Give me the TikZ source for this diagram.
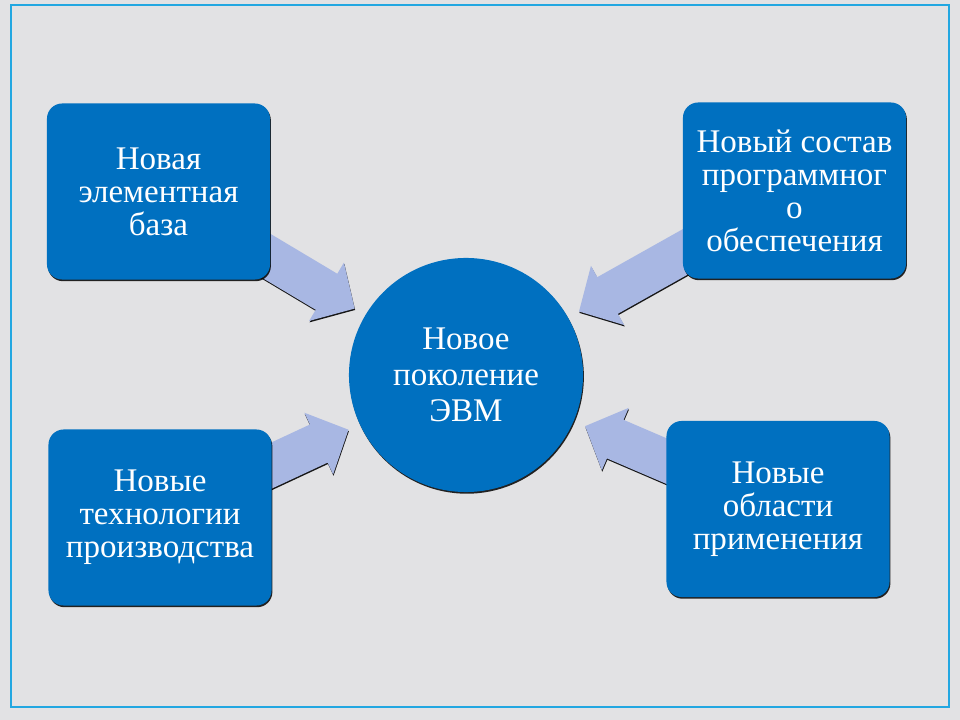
\documentclass[tikz,border=0pt]{standalone}
\usepackage{fontspec}
\setmainfont{Liberation Serif}
\usetikzlibrary{positioning,calc,shadows}
\definecolor{boxblue}{HTML}{0070C0}
\definecolor{lavender}{HTML}{A8B7E3}
\definecolor{slate}{HTML}{E2E2E4}
\definecolor{framecyan}{HTML}{22A7E1}
\pgfdeclarelayer{canvas}
\pgfdeclarelayer{arrows}
\pgfsetlayers{canvas,arrows,main}

\begin{document}
\begin{tikzpicture}[
  x=0.025cm, y=-0.025cm,
  box/.style={
    fill=boxblue,
    shape=rectangle,
    rounded corners=3.8mm,
    minimum width=5.575cm,
    minimum height=4.4cm,
    align=center,
    text=white,
    font=\fontsize{23.5}{23.5}\selectfont,
    drop shadow={shadow xshift=0.6pt, shadow yshift=-1.2pt, fill=black, opacity=0.85},
  },
  core/.style={
    fill=boxblue,
    shape=circle,
    minimum size=5.85cm,
    align=center,
    text=white,
    font=\fontsize{23.5}{25.5}\selectfont,
    drop shadow={shadow xshift=0.6pt, shadow yshift=-1.2pt, fill=black, opacity=0.85},
  },
  feed/.style={
    fill=lavender,
    drop shadow={shadow xshift=0.3pt, shadow yshift=-1pt, fill=black, opacity=0.9},
  },
  frame/.style={
    draw=framecyan,
    line width=1.8pt,
  }]
  \useasboundingbox (0,0) rectangle (960,720);
  \begin{pgfonlayer}{canvas}
    \fill[slate] (0,0) rectangle (960,720);
    \draw[frame] (11,5) rectangle (949,707);
  \end{pgfonlayer}

  \node[core] (evm) at (466,375) {Новое\\поколение\\ЭВМ};
  \node[box] (base) at (158.5,191.5) {Новая\\элементная\\база};
  \node[box] (soft) at (794.5,190.5) {Новый состав\\программног\\о\\обеспечения};
  \node[box] (tech) at (160,517.5) {Новые\\технологии\\производства};
  \node[box] (field) at (778,509) {Новые\\области\\применения};

  % block arrows from every box towards the circle
  \begin{pgfonlayer}{arrows}
    \foreach \src in {base,soft,tech,field}{
      \coordinate (head) at ($(evm)!4.06cm!(\src)$);
      \coordinate (tip) at ($(evm)!3.24cm!(\src)$);
      \fill[feed] ($(\src)!0.525cm!-90:(head)$) -- ($(head)!0.525cm!90:(\src)$)
        -- ($(head)!0.85cm!90:(\src)$) -- (tip) -- ($(head)!0.85cm!-90:(\src)$)
        -- ($(head)!0.525cm!-90:(\src)$) -- ($(\src)!0.525cm!90:(head)$) -- cycle;
    }
  \end{pgfonlayer}
\end{tikzpicture}
\end{document}
